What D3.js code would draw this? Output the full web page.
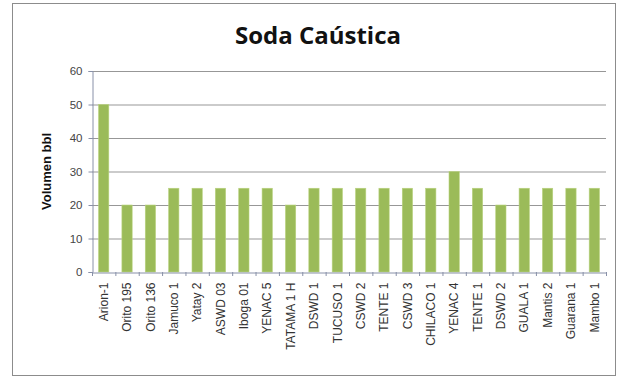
<!DOCTYPE html>
<html><head><meta charset="utf-8">
<script src="https://cdn.jsdelivr.net/npm/d3@7"></script>
<style>body{margin:0;background:#fff}svg{display:block}</style>
</head><body>
<script>
const categories = ["Arion-1","Orito 195","Orito 136","Jamuco 1","Yatay 2","ASWD 03","Iboga 01","YENAC 5","TATAMA 1 H","DSWD 1","TUCUSO 1","CSWD 2","TENTE 1","CSWD 3","CHILACO 1","YENAC 4","TENTE 1","DSWD 2","GUALA 1","Mantis 2","Guarana 1","Mambo 1"];
const values = [50,20,20,25,25,25,25,25,20,25,25,25,25,25,25,30,25,20,25,25,25,25];
const yTicks = [0,10,20,30,40,50,60];
const title = "Soda Caústica";
const yTitle = "Volumen bbl";

const W = 626, H = 379;
const svg = d3.select("body").append("svg").attr("width", W).attr("height", H);
svg.append("rect").attr("x",0).attr("y",0).attr("width",W).attr("height",H).attr("fill","#fff");
svg.append("rect").attr("x",12.5).attr("y",3.5).attr("width",603).attr("height",372)
  .attr("fill","#fff").attr("stroke","#8c8c8c").attr("stroke-width",1);

const m = {left:92, right:606, top:71, bottom:272};
const x = d3.scaleBand().domain(d3.range(categories.length)).range([m.left, m.right]).paddingInner(0.56).paddingOuter(0.28);
const y = d3.scaleLinear().domain([0,60]).range([m.bottom, m.top]);

// gridlines
svg.append("g").selectAll("line").data(yTicks.filter(d=>d>0)).join("line")
  .attr("x1", m.left).attr("x2", m.right)
  .attr("y1", d=>y(d)+0.5).attr("y2", d=>y(d)+0.5)
  .attr("stroke","#979797").attr("stroke-width",1);

// bars
svg.append("g").selectAll("rect").data(values).join("rect")
  .attr("x",(d,i)=>x(i)).attr("width",x.bandwidth())
  .attr("y",d=>y(d)).attr("height",d=>y(0)-y(d))
  .attr("fill","#9bbb59").attr("stroke","#b9d37f").attr("stroke-width",0.6);

// y axis
const ya = d3.axisLeft(y).tickValues(yTicks).tickSize(4).tickPadding(6);
const gy = svg.append("g").attr("transform",`translate(${m.left+0.5},0)`).call(ya);
gy.select(".domain").attr("stroke","#8890a8");
gy.selectAll(".tick line").attr("stroke","#8890a8");
gy.selectAll("text").attr("font-family","Liberation Sans, Arial, sans-serif").attr("font-size",11.5).attr("fill","#444");

// x axis
const xa = d3.axisBottom(x).tickFormat(i=>categories[i]).tickSize(0).tickPadding(8);
const gx = svg.append("g").attr("transform",`translate(0,${m.bottom+0.5})`).call(xa);
gx.select(".domain").attr("stroke","#8890a8");
gx.selectAll("text").attr("font-family","Liberation Sans, Arial, sans-serif").attr("font-size",12).attr("fill","#333")
  .attr("transform","rotate(-90)").attr("text-anchor","end").attr("dy","0.35em").attr("x",-10).attr("y",0);
// tick marks between categories
svg.append("g").selectAll("line").data(d3.range(categories.length+1)).join("line")
  .attr("x1",i=>m.left + i*(m.right-m.left)/categories.length+0.5)
  .attr("x2",i=>m.left + i*(m.right-m.left)/categories.length+0.5)
  .attr("y1",m.bottom).attr("y2",m.bottom+4).attr("stroke","#8890a8");

svg.append("text").attr("x",318).attr("y",44).attr("text-anchor","middle")
  .attr("font-family","Open Sans, Liberation Sans, sans-serif").attr("font-weight","bold").attr("font-size",24).attr("fill","#111").text(title);

svg.append("text").attr("transform",`translate(51,${(m.top+m.bottom)/2}) rotate(-90)`).attr("text-anchor","middle")
  .attr("font-family","Liberation Sans, Arial, sans-serif").attr("font-weight","bold").attr("font-size",13).attr("fill","#111").text(yTitle);
</script>
</body></html>
